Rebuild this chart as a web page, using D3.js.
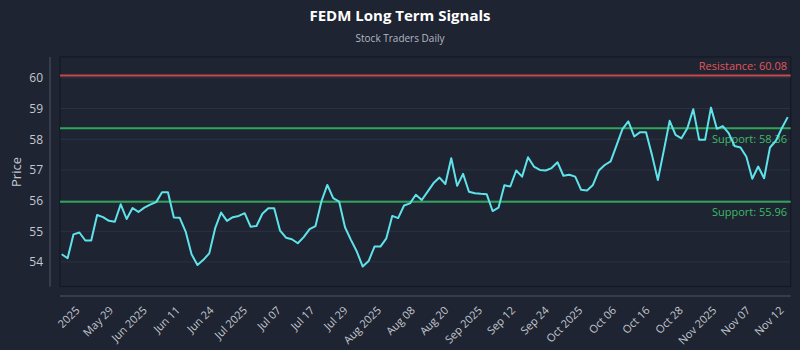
<!DOCTYPE html>
<html><head><meta charset="utf-8">
<script src="https://cdn.jsdelivr.net/npm/d3@7"></script>
<style>
html,body{margin:0;padding:0;background:#1e2432;}
svg{display:block;font-family:"Open Sans",sans-serif;}
</style></head>
<body>
<svg id="chart" width="800" height="350"></svg>
<script>
const prices = [
54.25, 54.12, 54.90, 54.96, 54.70, 54.70, 55.53, 55.46, 55.34, 55.31,
55.88, 55.40, 55.76, 55.63, 55.77, 55.87, 55.95, 56.27, 56.27, 55.45,
55.44, 54.99, 54.25, 53.90, 54.07, 54.28, 55.10, 55.61, 55.34, 55.46,
55.50, 55.59, 55.15, 55.17, 55.57, 55.75, 55.75, 55.02, 54.79, 54.74,
54.61, 54.81, 55.07, 55.17, 55.97, 56.51, 56.08, 55.97, 55.13, 54.72,
54.34, 53.85, 54.03, 54.50, 54.50, 54.77, 55.50, 55.43, 55.84, 55.91,
56.19, 56.02, 56.29, 56.57, 56.75, 56.54, 57.38, 56.48, 56.87, 56.29,
56.24, 56.22, 56.21, 55.66, 55.77, 56.50, 56.46, 56.98, 56.78, 57.41,
57.11, 57.00, 56.98, 57.06, 57.25, 56.81, 56.84, 56.78, 56.35, 56.33,
56.51, 56.98, 57.16, 57.28, 57.80, 58.33, 58.58, 58.09, 58.23, 58.23,
57.49, 56.67, 57.62, 58.60, 58.14, 58.03, 58.36, 58.98, 57.98, 57.98,
59.03, 58.34, 58.43, 58.20, 57.78, 57.73, 57.43, 56.71, 57.11, 56.73,
57.73, 57.95, 58.36, 58.72
];
const tickLabels = ["2025","May 29","Jun 2025","Jun 11","Jun 24","Jul 2025","Jul 07","Jul 17","Jul 29","Aug 2025","Aug 08","Aug 20","Sep 2025","Sep 12","Sep 24","Oct 2025","Oct 06","Oct 16","Oct 28","Nov 2025","Nov 07","Nov 12"];
const tickPositions = [3.5, 9.2, 14.9, 20.5, 26.2, 31.9, 37.6, 43.3, 48.9, 54.6, 60.3, 66.0, 71.7, 77.3, 83.0, 88.7, 94.4, 100.1, 105.7, 111.4, 117.1, 122.8];
const yTicks = [54, 55, 56, 57, 58, 59, 60];
const levelNames = ["Resistance", "Support", "Support"];
const levelValues = [60.08, 58.36, 55.96];

const svg = d3.select("#chart");
const frame = {left: 60, right: 790.7, top: 57, bottom: 286.5};

const x = d3.scaleLinear().domain([0, prices.length - 1]).range([61.7, 787.7]);
const y = d3.scaleLinear().domain([53.2, 60.68]).range([frame.bottom, frame.top]);

// title
svg.append("text").attr("x", 400).attr("y", 21).attr("text-anchor", "middle")
  .attr("fill", "#ffffff").attr("font-size", 15).attr("font-weight", "bold")
  .text("FEDM Long Term Signals");
svg.append("text").attr("x", 400).attr("y", 42).attr("text-anchor", "middle")
  .attr("fill", "#b4b8c2").attr("font-size", 10)
  .text("Stock Traders Daily");

// gridlines
svg.append("g").selectAll("line").data(yTicks).join("line")
  .attr("x1", frame.left).attr("x2", frame.right)
  .attr("y1", d => y(d)).attr("y2", d => y(d))
  .attr("stroke", "#2b3242").attr("stroke-width", 1);

// plot frame
svg.append("rect").attr("x", frame.left).attr("y", frame.top)
  .attr("width", frame.right - frame.left).attr("height", frame.bottom - frame.top)
  .attr("fill", "none").attr("stroke", "#141924").attr("stroke-width", 1.2);

// y axis (offset spine)
const yAxis = d3.axisLeft(y).tickValues(yTicks).tickSize(0).tickPadding(7).tickFormat(d3.format("d"));
const gy = svg.append("g").attr("transform", "translate(50,0)").call(yAxis);
gy.select(".domain").attr("stroke", "#4f5566").attr("d", `M0,${frame.top}V${frame.bottom}`);
gy.selectAll("text").attr("fill", "#c4c8d0").attr("font-size", 12).attr("font-family", "Open Sans");

// x axis (offset spine)
const xAxis = d3.axisBottom(x).tickValues(tickPositions).tickSize(0)
  .tickFormat((d, i) => tickLabels[i]);
const gx = svg.append("g").attr("transform", "translate(0,296)").call(xAxis);
gx.select(".domain").attr("stroke", "#4f5566").attr("d", `M${frame.left},0H${frame.right}`);
gx.selectAll("text").attr("fill", "#c4c8d0").attr("font-size", 11).attr("font-family", "Open Sans")
  .attr("text-anchor", "end").attr("dy", null).attr("y", 0)
  .attr("transform", "translate(-2.5,15) rotate(-45)");

// Price label
svg.append("text").attr("transform", "translate(20.5,172) rotate(-90)")
  .attr("text-anchor", "middle").attr("fill", "#c4c8d0").attr("font-size", 13)
  .text("Price");

// level lines
const levelColor = ["#c9484b", "#2fa55a", "#2fa55a"];
const textColor = ["#e0575a", "#3dbb66", "#3dbb66"];
const lv = svg.append("g");
levelValues.forEach((v, i) => {
  lv.append("line").attr("x1", frame.left).attr("x2", frame.right)
    .attr("y1", y(v)).attr("y2", y(v))
    .attr("stroke", levelColor[i]).attr("stroke-width", 2);
  lv.append("text").attr("x", 787).attr("y", i === 0 ? y(v) - 5 : y(v) + 14.5)
    .attr("text-anchor", "end").attr("fill", textColor[i]).attr("font-size", 11)
    .text(`${levelNames[i]}: ${v.toFixed(2)}`);
});

// price line
svg.append("path").datum(prices)
  .attr("fill", "none").attr("stroke", "#5fe3ea").attr("stroke-width", 2)
  .attr("stroke-linejoin", "round")
  .attr("d", d3.line().x((d, i) => x(i)).y(d => y(d)));
</script>
</body></html>
